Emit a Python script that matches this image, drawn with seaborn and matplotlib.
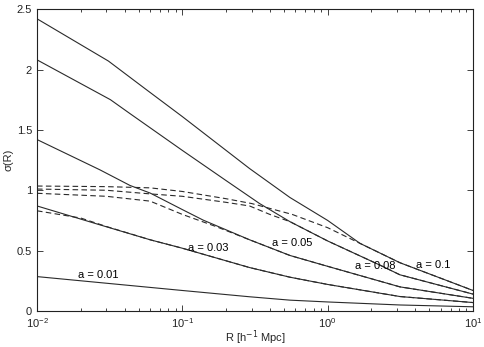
import numpy as np
import pandas as pd
import seaborn as sns
import matplotlib.pyplot as plt

# solid curves: sigma(R) for each a
r_a010 = [0.01, 0.031, 0.057, 0.1, 0.29, 0.55, 1.0, 1.67, 3.14, 10]
s_a010 = [2.42, 2.07, 1.83, 1.61, 1.18, 0.94, 0.75, 0.56, 0.40, 0.17]

r_a008 = [0.01, 0.032, 0.0436, 0.1, 0.2, 0.34, 0.55, 1.0, 2.29, 3.14, 10]
s_a008 = [2.08, 1.75, 1.635, 1.33, 1.08, 0.89, 0.74, 0.58, 0.38, 0.30, 0.14]

r_a005 = [0.01, 0.027, 0.0436, 0.06, 0.1, 0.139, 0.29, 0.55, 1.0, 3.14, 10]
s_a005 = [1.42, 1.17, 1.04, 0.977, 0.84, 0.753, 0.59, 0.46, 0.37, 0.20, 0.105]

r_a003 = [0.01, 0.026, 0.06, 0.1, 0.29, 0.55, 1.0, 3.14, 10]
s_a003 = [0.87, 0.72, 0.59, 0.52, 0.36, 0.28, 0.22, 0.12, 0.07]

r_a001 = [0.01, 0.1, 0.29, 0.55, 1.0, 3.14, 10]
s_a001 = [0.285, 0.17, 0.118, 0.09, 0.075, 0.05, 0.035]

# dashed curves
r_d010 = [0.01, 0.03, 0.06, 0.1, 0.2, 0.3, 0.57, 1.0, 1.67, 3.14, 10]
s_d010 = [1.035, 1.03, 1.02, 0.99, 0.93, 0.89, 0.80, 0.69, 0.56, 0.40, 0.17]

r_d008 = [0.01, 0.03, 0.06, 0.1, 0.2, 0.29, 0.4, 0.55, 1.0, 2.29, 3.14, 10]
s_d008 = [1.01, 1.0, 0.97, 0.95, 0.90, 0.87, 0.80, 0.74, 0.58, 0.38, 0.30, 0.14]

r_d005 = [0.01, 0.03, 0.06, 0.1, 0.17, 0.29, 0.55, 1.0, 3.14, 10]
s_d005 = [0.975, 0.95, 0.91, 0.80, 0.70, 0.59, 0.46, 0.37, 0.20, 0.105]

r_d003 = [0.01, 0.02, 0.03, 0.06, 0.1, 0.29, 0.55, 1.0, 3.14, 10]
s_d003 = [0.83, 0.77, 0.70, 0.59, 0.52, 0.36, 0.28, 0.22, 0.12, 0.07]

labels = ["a = 0.01", "a = 0.03", "a = 0.05", "a = 0.08", "a = 0.1"]
label_r = [0.0263, 0.15, 0.568, 2.11, 5.29]
label_s = [0.30, 0.52, 0.56, 0.37, 0.38]

sns.set_style("ticks")
plt.rcParams['font.family'] = ['Liberation Sans', 'DejaVu Sans']
plt.rcParams['xtick.direction'] = 'in'
plt.rcParams['ytick.direction'] = 'in'

fig = plt.figure(figsize=(4.85, 3.47), dpi=100)
ax = fig.add_axes([0.0763, 0.1037, 0.899, 0.870])

line_color = '#2a2a2a'
solid = [(r_a010, s_a010), (r_a008, s_a008), (r_a005, s_a005), (r_a003, s_a003), (r_a001, s_a001)]
dashed = [(r_d010, s_d010), (r_d008, s_d008), (r_d005, s_d005), (r_d003, s_d003)]

for r, s in solid:
    sns.lineplot(x=r, y=s, ax=ax, color=line_color, linewidth=0.8, estimator=None, sort=False)
for r, s in dashed:
    sns.lineplot(x=r, y=s, ax=ax, color=line_color, linewidth=0.8, linestyle=(0, (5, 3)),
                 estimator=None, sort=False)

for txt, xr, ys in zip(labels, label_r, label_s):
    ax.text(xr, ys, txt, fontsize=8, ha='center', va='center', color='black')

ax.set_xscale('log')
ax.set_xlim(1e-2, 1e1)
ax.set_ylim(0, 2.5)
ax.set_yticks([0, 0.5, 1, 1.5, 2, 2.5])
ax.set_yticklabels(["0", "0.5", "1", "1.5", "2", "2.5"])
ax.tick_params(which='both', top=True, right=True, labelsize=8, colors='#222222')
ax.tick_params(which='major', length=4, width=0.6)
ax.tick_params(which='minor', length=2, width=0.6)
for sp in ax.spines.values():
    sp.set_visible(True)
    sp.set_linewidth(0.8)
    sp.set_color('#222222')

ax.set_xlabel(r"R [h$^{-1}$ Mpc]", fontsize=8)
ax.xaxis.set_label_coords(0.5, -0.058)
ax.set_ylabel(r"σ(R)", fontsize=8, labelpad=2)

fig.savefig("out.png", dpi=100)
